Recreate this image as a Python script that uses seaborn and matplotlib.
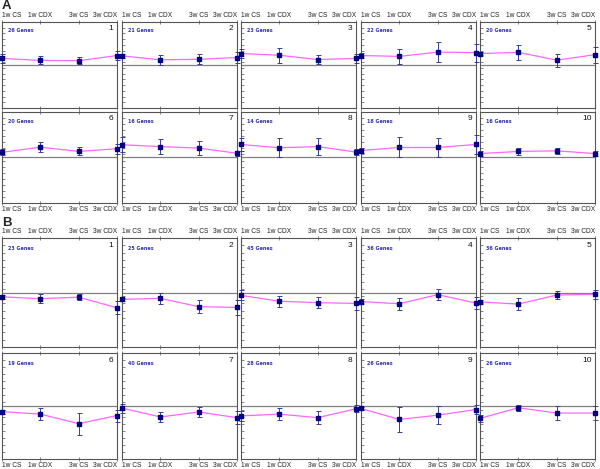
import numpy as np
import pandas as pd
import matplotlib
matplotlib.use("Agg")
import matplotlib.pyplot as plt
import seaborn as sns

sns.set_style("white")
plt.rcParams["font.family"] = ["Liberation Sans", "DejaVu Sans"]

conditions = ["1w CS", "1w CDX", "3w CS", "3w CDX"]

# Panel A: cluster means and error bars (10 clusters)
genes_a = [26, 21, 23, 22, 20, 20, 16, 14, 18, 16]
means_a = [
    [0.23, 0.16, 0.15, 0.33],
    [0.32, 0.18, 0.20, 0.26],
    [0.40, 0.34, 0.19, 0.23],
    [0.33, 0.30, 0.45, 0.43],
    [0.40, 0.44, 0.17, 0.36],
    [0.17, 0.34, 0.20, 0.29],
    [0.42, 0.36, 0.31, 0.14],
    [0.43, 0.32, 0.36, 0.18],
    [0.23, 0.33, 0.33, 0.43],
    [0.13, 0.20, 0.22, 0.13],
]
err_a = [
    [0.17, 0.14, 0.12, 0.15],
    [0.06, 0.18, 0.17, 0.18],
    [0.15, 0.26, 0.17, 0.17],
    [0.10, 0.27, 0.35, 0.32],
    [0.05, 0.27, 0.23, 0.28],
    [0.10, 0.17, 0.13, 0.17],
    [0.25, 0.26, 0.23, 0.08],
    [0.20, 0.31, 0.29, 0.11],
    [0.08, 0.33, 0.30, 0.32],
    [0.08, 0.12, 0.10, 0.07],
]

# Panel B
genes_b = [23, 25, 45, 36, 36, 19, 40, 28, 26, 26]
means_b = [
    [-0.12, -0.17, -0.13, -0.42],
    [-0.19, -0.16, -0.39, -0.41],
    [-0.08, -0.24, -0.28, -0.30],
    [-0.25, -0.31, -0.06, -0.29],
    [-0.26, -0.32, -0.07, -0.05],
    [-0.16, -0.23, -0.50, -0.27],
    [-0.06, -0.31, -0.17, -0.33],
    [-0.28, -0.23, -0.33, -0.08],
    [-0.07, -0.38, -0.26, -0.10],
    [-0.35, -0.05, -0.20, -0.20],
]
err_b = [
    [0.05, 0.12, 0.08, 0.18],
    [0.05, 0.15, 0.17, 0.20],
    [0.14, 0.15, 0.16, 0.17],
    [0.06, 0.17, 0.16, 0.17],
    [0.05, 0.17, 0.10, 0.12],
    [0.06, 0.17, 0.31, 0.17],
    [0.13, 0.15, 0.15, 0.18],
    [0.15, 0.16, 0.19, 0.10],
    [0.05, 0.36, 0.26, 0.13],
    [0.10, 0.09, 0.20, 0.19],
]

W, H = 600, 469
fig = plt.figure(figsize=(W / 100, H / 100), dpi=100)

col_left = [2, 122, 241, 361, 480]
col_w = 115
# (top, bottom) in pixels for each row
rows_a = [(22, 108), (112, 203)]
rows_b = [(238, 347), (353, 459)]


def draw_panel(rows, genes, means, errs):
    for i in range(10):
        r, c = divmod(i, 5)
        top, bot = rows[r]
        ax = fig.add_axes([col_left[c] / W, 1 - bot / H, col_w / W, (bot - top) / H])
        df = pd.DataFrame({"x": range(4), "y": means[i], "e": errs[i]})
        ax.axhline(0, color="#808080", lw=0.9, zorder=1)
        sns.lineplot(data=df, x="x", y="y", ax=ax, color="#ff66ff", lw=0.9, zorder=2)
        ax.errorbar(df["x"], df["y"], yerr=df["e"], fmt="s", ms=2.5, color="#000080",
                    ecolor="#3a3a9a", elinewidth=0.7, capsize=1.8, capthick=0.7,
                    clip_on=False, zorder=3)
        ax.set_xlim(0, 3)
        ax.set_ylim(-1.5, 1.5)
        ax.set_yticks(np.arange(-1.5, 1.51, 0.2))
        ax.set_yticklabels([])
        ax.tick_params(axis="y", direction="in", length=2, width=0.5, left=True, colors="#555555")
        ax.set_xticks(range(4))
        top_row = r == 0
        ax.tick_params(axis="x", direction="inout", length=3, width=0.5, bottom=True,
                       top=True, labeltop=top_row, labelbottom=not top_row, labelsize=4.8,
                       pad=0.8, colors="#555555", labelcolor="#222222")
        ax.set_xticklabels(conditions)
        labs = ax.get_xticklabels()
        labs[0].set_ha("left")
        labs[-1].set_ha("right")
        ax.set_xlabel("")
        ax.set_ylabel("")
        for s in ax.spines.values():
            s.set_color("#555555")
            s.set_linewidth(0.8)
        ax.text(0.05, 0.9, f"{genes[i]} Genes", transform=ax.transAxes, fontsize=3.5,
                color="#3333aa", weight="bold", va="center", family="DejaVu Sans")
        ax.text(0.97, 0.93, str(i + 1), transform=ax.transAxes, fontsize=6,
                ha="right", va="center", color="#111111")


draw_panel(rows_a, genes_a, means_a, err_a)
draw_panel(rows_b, genes_b, means_b, err_b)

fig.text(2 / W, 1 - 9 / H, "A", fontsize=9.5, weight="bold", va="baseline", ha="left")
fig.text(2 / W, 1 - 226 / H, "B", fontsize=9.5, weight="bold", va="baseline", ha="left")

fig.savefig("out.png", dpi=100)
